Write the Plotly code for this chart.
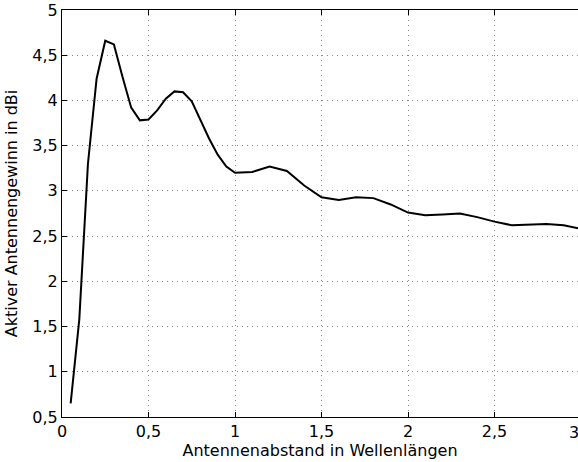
import plotly.graph_objects as go

# Antenna spacing (in wavelengths) and active antenna gain (dBi)
spacing = [0.05, 0.1, 0.15, 0.2, 0.25, 0.3, 0.35, 0.4, 0.45, 0.5,
           0.55, 0.6, 0.65, 0.7, 0.75, 0.8, 0.85, 0.9, 0.95, 1.0,
           1.1, 1.2, 1.3, 1.4, 1.5, 1.6, 1.7, 1.8, 1.9, 2.0,
           2.1, 2.2, 2.3, 2.4, 2.5, 2.6, 2.7, 2.8, 2.9, 3.0]
gain_dbi = [0.65, 1.58, 3.30, 4.24, 4.66, 4.62, 4.26, 3.92, 3.78, 3.79,
            3.89, 4.02, 4.10, 4.09, 3.99, 3.78, 3.58, 3.40, 3.27, 3.20,
            3.21, 3.27, 3.22, 3.06, 2.93, 2.90, 2.93, 2.92, 2.85, 2.76,
            2.73, 2.74, 2.75, 2.71, 2.66, 2.62, 2.625, 2.635, 2.62, 2.58]

x_ticks = [0, 0.5, 1, 1.5, 2, 2.5]
y_ticks = [0.5, 1, 1.5, 2, 2.5, 3, 3.5, 4, 4.5, 5]
last_x_tick = 3

FONT = dict(family="DejaVu Sans", size=16, color="black")
W, H = 578, 462
ML, MT, MB = 62, 10, 45
PX_PER_UNIT = 173.0
x_max = (W - ML) / PX_PER_UNIT

fig = go.Figure()
fig.add_trace(go.Scatter(
    x=spacing, y=gain_dbi, mode="lines",
    line=dict(color="black", width=2),
    showlegend=False,
))

# Last x tick label sits just past the right edge of the axis range,
# placed in paper units derived from the axis scale
fig.add_annotation(
    x=last_x_tick / x_max, y=0, xref="paper", yref="paper", yanchor="top",
    text=str(last_x_tick), showarrow=False, font=FONT, yshift=-4,
)

axis_common = dict(
    showline=True, linecolor="black", linewidth=1,
    ticks="inside", ticklen=5, tickcolor="black",
    showgrid=True, gridcolor="#8a8a8a", gridwidth=1, griddash="1px,4px",
    zeroline=False, tickfont=FONT,
)

fig.update_layout(
    width=W, height=H,
    margin=dict(l=ML, r=0, t=MT, b=MB, autoexpand=False),
    paper_bgcolor="white", plot_bgcolor="white",
    separators=", ",
    font=FONT,
    xaxis=dict(
        range=[0, x_max], tickvals=x_ticks, mirror="ticks",
        title=dict(text="Antennenabstand in Wellenlängen", font=FONT, standoff=0),
        automargin=False,
        **axis_common,
    ),
    yaxis=dict(
        range=[0.5, 5], tickvals=y_ticks, mirror=False,
        title=dict(text="Aktiver Antennengewinn in dBi", font=FONT, standoff=10),
        automargin=False,
        **axis_common,
    ),
)

fig.write_html("out.html")
